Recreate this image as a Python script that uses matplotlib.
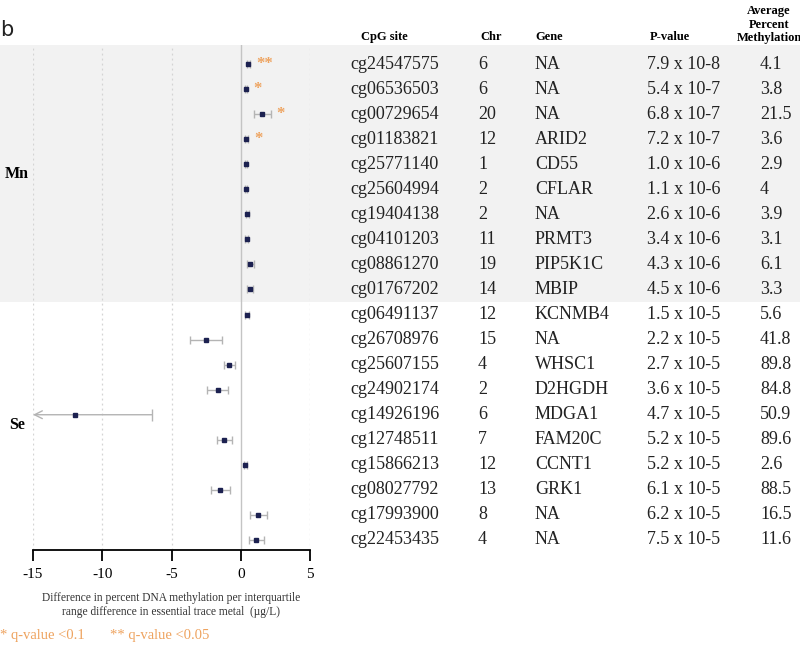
import matplotlib
matplotlib.use("Agg")
import matplotlib.pyplot as plt
import matplotlib.transforms as mtransforms
from matplotlib.patches import Rectangle

plt.rcParams["font.family"] = ["Liberation Serif", "DejaVu Serif"]
plt.rcParams["axes.unicode_minus"] = False

# data, top to bottom
cpg_sites = ["cg24547575", "cg06536503", "cg00729654", "cg01183821", "cg25771140",
             "cg25604994", "cg19404138", "cg04101203", "cg08861270", "cg01767202",
             "cg06491137", "cg26708976", "cg25607155", "cg24902174", "cg14926196",
             "cg12748511", "cg15866213", "cg08027792", "cg17993900", "cg22453435"]
chromosomes = ["6", "6", "20", "12", "1", "2", "2", "11", "19", "14",
               "12", "15", "4", "2", "6", "7", "12", "13", "8", "4"]
genes = ["NA", "NA", "NA", "ARID2", "CD55", "CFLAR", "NA", "PRMT3", "PIP5K1C", "MBIP",
         "KCNMB4", "NA", "WHSC1", "D2HGDH", "MDGA1", "FAM20C", "CCNT1", "GRK1", "NA", "NA"]
p_values = ["7.9 x 10-8", "5.4 x 10-7", "6.8 x 10-7", "7.2 x 10-7", "1.0 x 10-6",
            "1.1 x 10-6", "2.6 x 10-6", "3.4 x 10-6", "4.3 x 10-6", "4.5 x 10-6",
            "1.5 x 10-5", "2.2 x 10-5", "2.7 x 10-5", "3.6 x 10-5", "4.7 x 10-5",
            "5.2 x 10-5", "5.2 x 10-5", "6.1 x 10-5", "6.2 x 10-5", "7.5 x 10-5"]
avg_methylation = ["4.1", "3.8", "21.5", "3.6", "2.9", "4", "3.9", "3.1", "6.1", "3.3",
                   "5.6", "41.8", "89.8", "84.8", "50.9", "89.6", "2.6", "88.5", "16.5", "11.6"]

estimate = [0.55, 0.38, 1.55, 0.40, 0.36, 0.40, 0.48, 0.43, 0.70, 0.65,
            0.46, -2.50, -0.87, -1.66, -11.97, -1.20, 0.34, -1.47, 1.28, 1.10]
ci_low = [0.45, 0.30, 0.95, 0.30, 0.28, 0.32, 0.38, 0.33, 0.45, 0.45,
          0.30, -3.63, -1.23, -2.43, -17.60, -1.75, 0.24, -2.16, 0.70, 0.58]
ci_high = [0.65, 0.46, 2.15, 0.50, 0.44, 0.48, 0.58, 0.53, 0.95, 0.85,
           0.62, -1.37, -0.45, -0.89, -6.40, -0.63, 0.44, -0.79, 1.92, 1.68]
stars = ["**", "*", "*", "*", "", "", "", "", "", "",
         "", "", "", "", "", "", "", "", "", ""]

metal_groups = ["Mn", "Se"]
group_rows = [(0, 9), (10, 19)]

x_ticks = [-15, -10, -5, 0, 5]
x_min, x_max = -15, 5

ORANGE = "#eea35f"
NAVY = "#1c2150"
BAR = "#b4b4b4"
BAND = "#f2f2f2"

fig = plt.figure(figsize=(8, 6.45), dpi=100)
ax = fig.add_axes([33 / 800, 95 / 645, 277 / 800, 505 / 645])
ax.set_facecolor("none")

rows = list(range(len(cpg_sites)))
ax.set_xlim(x_min, x_max)
ax.set_ylim(19.4, -0.76)

# shaded band behind the first metal group (figure wide)
band_tf = mtransforms.blended_transform_factory(fig.transFigure, ax.transData)
first, last = group_rows[0]
fig.patches.append(Rectangle((0, -0.76), 1, last + 0.5 + 0.76, transform=band_tf,
                             facecolor=BAND, edgecolor="none", zorder=-10))

for t in x_ticks:
    if t == 0:
        ax.axvline(t, color="#c4c4c4", lw=1.0, zorder=1)
    else:
        ax.axvline(t, color="#d4d4d4", lw=0.9, ls=(0, (1.5, 2.5)), zorder=1)

for i in rows:
    lo, hi, est = ci_low[i], ci_high[i], estimate[i]
    if lo < x_min:
        ax.annotate("", xy=(x_min, i), xytext=(hi, i),
                    arrowprops=dict(arrowstyle="->", color=BAR, lw=1.0,
                                    mutation_scale=14, shrinkA=0, shrinkB=0))
        ax.plot([hi], [i], marker="|", color=BAR, ms=8, mew=1.0)
    else:
        ax.errorbar(est, i, xerr=[[est - lo], [hi - est]], fmt="none",
                    ecolor=BAR, elinewidth=1.0, capsize=3, capthick=1.0, zorder=2)
    ax.plot(est, i, marker="s", ms=3.0, color=NAVY, zorder=3)
    if stars[i]:
        ax.text(hi + 0.45, i, stars[i], color=ORANGE, fontsize=12, fontweight="bold",
                ha="left", va="center")

for spine in ["top", "right", "left"]:
    ax.spines[spine].set_visible(False)
ax.spines["bottom"].set_linewidth(1.3)
ax.set_yticks([])
ax.set_xticks(x_ticks)
ax.tick_params(axis="x", direction="out", length=8, width=1.3, labelsize=11, pad=5)
ax.set_xlabel("Difference in percent DNA methylation per interquartile\n"
              "range difference in essential trace metal  (\u00b5g/L)",
              fontsize=8.3, labelpad=8, color="#333333", linespacing=1.15)

# group labels
for name, (a, b) in zip(metal_groups, group_rows):
    ax.text(-16.15, (a + b) / 2 - 0.1, name, fontsize=11.5, fontweight="bold",
            ha="center", va="center", clip_on=False)

# table
col_x = [350, 478, 535, 647, 760]
columns = [cpg_sites, chromosomes, genes, p_values, avg_methylation]
for x, values in zip(col_x, columns):
    for i, v in enumerate(values):
        ax.text(x / 800, i, v, transform=band_tf, fontsize=13, ha="left",
                va="center", color="#222222", clip_on=False)

head_y = -1.08
ax.text(384 / 800, head_y, "CpG site", transform=band_tf, fontsize=9,
        fontweight="bold", ha="center", va="center")
ax.text(480 / 800, head_y, "Chr", transform=band_tf, fontsize=9,
        fontweight="bold", ha="left", va="center")
ax.text(535 / 800, head_y, "Gene", transform=band_tf, fontsize=9,
        fontweight="bold", ha="left", va="center")
ax.text(650 / 800, head_y, "P-value", transform=band_tf, fontsize=9,
        fontweight="bold", ha="left", va="center")
ax.text(769 / 800, head_y + 0.3, "Average\nPercent\nMethylation", transform=band_tf,
        fontsize=9, fontweight="bold", ha="center", va="bottom", linespacing=1.2)

fig.text(0.0, 1 - 30 / 645, "b", fontsize=15, family="DejaVu Sans", ha="left",
         va="center", color="#222222")

fig.text(0.0, 1 - 636 / 645, "* q-value <0.1", fontsize=10.5, color=ORANGE,
         ha="left", va="center")
fig.text(110 / 800, 1 - 636 / 645, "** q-value <0.05", fontsize=10.5, color=ORANGE,
         ha="left", va="center")

fig.savefig("out.png", dpi=100)
